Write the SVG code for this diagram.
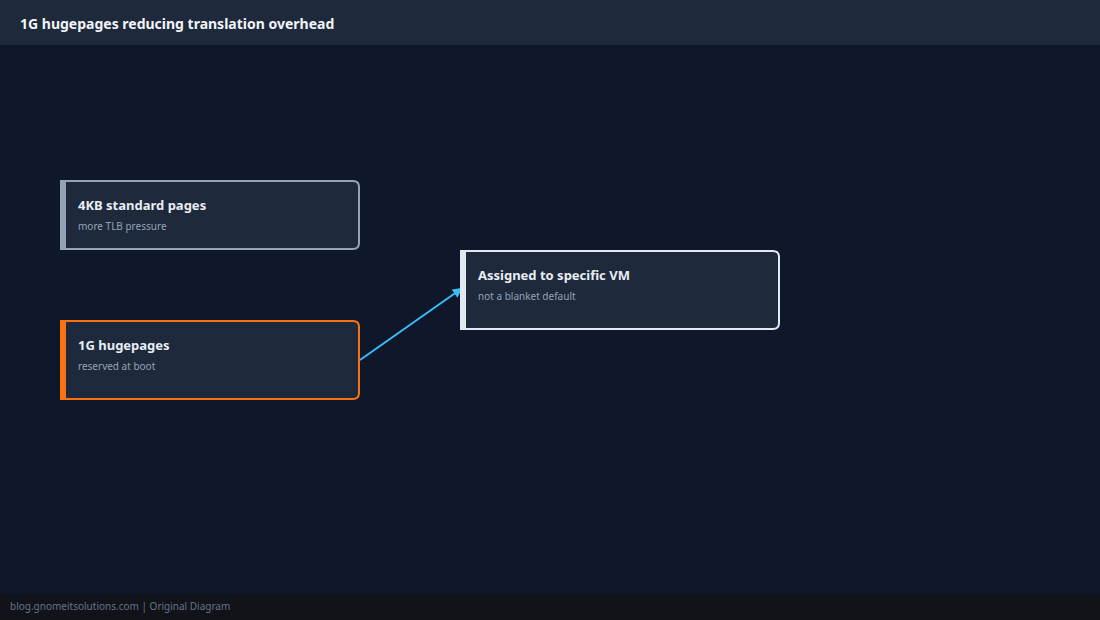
<svg xmlns="http://www.w3.org/2000/svg" width="1100" height="620" viewBox="0 0 1100 620">
<style>
.t{font-family:"Noto Sans","DejaVu Sans",sans-serif;font-weight:bold;font-size:13px;fill:#e8edf3}
.s{font-family:"Noto Sans","DejaVu Sans",sans-serif;font-size:10px;fill:#94a3b8}
.box{fill:#1e293b;stroke-width:2}
</style>
<defs><marker id="a" markerWidth="10" markerHeight="10" refX="8" refY="5" orient="auto" markerUnits="userSpaceOnUse"><path d="M0,0 L10,5 L0,10 z" fill="#38bdf8"/></marker></defs>
<rect width="1100" height="620" fill="#0f172a"/>
<rect width="1100" height="45" fill="#1e293b"/>
<text x="20" y="29" font-family="Noto Sans,DejaVu Sans,sans-serif" font-weight="bold" font-size="14" fill="#f1f5f9">1G hugepages reducing translation overhead</text>
<rect y="594" width="1100" height="26" fill="#111318"/>
<text x="10" y="610" font-family="Noto Sans,DejaVu Sans,sans-serif" font-size="10" fill="#64748b">blog.gnomeitsolutions.com | Original Diagram</text>
<g id="connectors"><line x1="360" y1="360" x2="461" y2="289" stroke="#38bdf8" stroke-width="2" marker-end="url(#a)"/></g>
<g id="n1"><path class="box" stroke="#94a3b8" d="M61,181 H353 Q359,181 359,187 V243 Q359,249 353,249 H61 Z"/><rect x="60" y="180" width="6" height="70" fill="#94a3b8"/><text class="t" x="78" y="210">4KB standard pages</text><text class="s" x="78" y="230">more TLB pressure</text></g>
<g id="n2"><path class="box" stroke="#f97316" d="M61,321 H353 Q359,321 359,327 V393 Q359,399 353,399 H61 Z"/><rect x="60" y="320" width="6" height="80" fill="#f97316"/><text class="t" x="78" y="350">1G hugepages</text><text class="s" x="78" y="370">reserved at boot</text></g>
<g id="n3"><path class="box" stroke="#e2e8f0" d="M461,251 H773 Q779,251 779,257 V323 Q779,329 773,329 H461 Z"/><rect x="460" y="250" width="6" height="80" fill="#e2e8f0"/><text class="t" x="478" y="280">Assigned to specific VM</text><text class="s" x="478" y="300">not a blanket default</text></g>
</svg>
